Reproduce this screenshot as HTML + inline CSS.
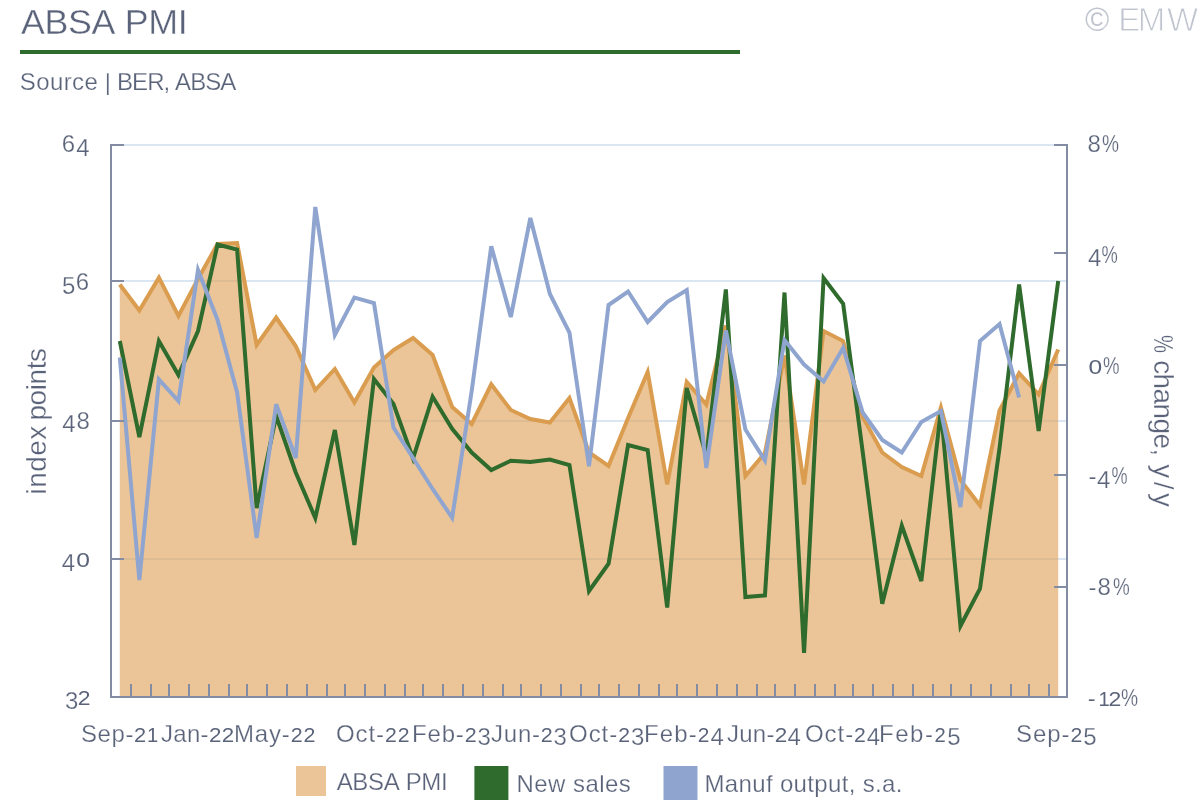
<!DOCTYPE html>
<html lang="en"><head><meta charset="utf-8"><title>ABSA PMI</title>
<style>html,body{margin:0;padding:0;background:#fff;overflow:hidden}svg{display:block}text{font-family:"Liberation Sans", sans-serif;font-kerning:none;}</style></head><body>
<svg width="1200" height="800" viewBox="0 0 1200 800">
<rect x="0" y="0" width="1200" height="800" fill="#ffffff"/>
<text id="t_title" x="20.95" y="33.80" font-size="35.8" text-anchor="start" fill="#5a6379" letter-spacing="-0.321"  stroke="#fff" stroke-width="0.37">ABSA PMI</text>
<rect x="20" y="50" width="720" height="4" fill="#2e6b2c"/>
<text id="t_source" y="89.50" font-size="24" fill="#5a6379" stroke="#fff" stroke-width="0.25"><tspan id="t_source_0" x="19.75" letter-spacing="0.400">Source</tspan><tspan id="t_source_1" x="98.00" letter-spacing="0.000"> | </tspan><tspan id="t_source_2" x="117.00" letter-spacing="-0.925">BER, ABSA</tspan></text>
<text id="t_wm" x="1085.1 1110 1118.3 1137.8 1166.9" y="30.6" font-size="33" fill="#bfc4ce" stroke="#fff" stroke-width="0.9"><tspan stroke-width="0.1">©</tspan> EMW</text>
<rect x="112" y="144" width="954" height="2" fill="#dbe6f3"/>
<rect x="112" y="280" width="954" height="2" fill="#dbe6f3"/>
<rect x="112" y="420" width="954" height="2" fill="#dbe6f3"/>
<rect x="112" y="558" width="954" height="2" fill="#dbe6f3"/>
<path d="M119.80,697 L119.80,284.50 L139.35,310.50 L158.90,277.70 L178.45,316.00 L198.00,279.00 L217.55,244.00 L237.10,243.00 L256.65,345.00 L276.20,317.50 L295.75,346.00 L315.30,390.00 L334.85,369.00 L354.40,402.50 L373.95,367.50 L393.50,350.00 L413.05,338.00 L432.60,355.00 L452.15,407.00 L471.70,424.00 L491.25,384.25 L510.80,410.00 L530.35,419.00 L549.90,422.50 L569.45,398.00 L589.00,452.50 L608.55,466.00 L628.10,418.00 L647.65,372.00 L667.20,484.50 L686.75,382.00 L706.30,404.50 L725.85,325.50 L745.40,476.00 L764.95,453.00 L784.50,355.50 L804.05,484.50 L823.60,331.00 L843.15,341.00 L862.70,417.00 L882.25,452.50 L901.80,467.00 L921.35,476.00 L940.90,407.50 L960.45,480.00 L980.00,505.50 L999.55,410.50 L1019.10,373.25 L1038.65,394.50 L1058.20,349.50 L1058.20,697 Z" fill="#de9e53" fill-opacity="0.6"/>
<polyline points="119.80,284.50 139.35,310.50 158.90,277.70 178.45,316.00 198.00,279.00 217.55,244.00 237.10,243.00 256.65,345.00 276.20,317.50 295.75,346.00 315.30,390.00 334.85,369.00 354.40,402.50 373.95,367.50 393.50,350.00 413.05,338.00 432.60,355.00 452.15,407.00 471.70,424.00 491.25,384.25 510.80,410.00 530.35,419.00 549.90,422.50 569.45,398.00 589.00,452.50 608.55,466.00 628.10,418.00 647.65,372.00 667.20,484.50 686.75,382.00 706.30,404.50 725.85,325.50 745.40,476.00 764.95,453.00 784.50,355.50 804.05,484.50 823.60,331.00 843.15,341.00 862.70,417.00 882.25,452.50 901.80,467.00 921.35,476.00 940.90,407.50 960.45,480.00 980.00,505.50 999.55,410.50 1019.10,373.25 1038.65,394.50 1058.20,349.50" fill="none" stroke="#da9d50" stroke-width="4"/>
<polyline points="119.80,341.00 139.35,437.00 158.90,341.00 178.45,375.00 198.00,331.00 217.55,244.50 237.10,249.50 256.65,508.00 276.20,416.00 295.75,472.50 315.30,518.00 334.85,430.00 354.40,545.00 373.95,379.00 393.50,404.00 413.05,458.50 432.60,396.75 452.15,428.75 471.70,452.50 491.25,470.00 510.80,460.75 530.35,462.00 549.90,459.50 569.45,465.00 589.00,591.00 608.55,563.75 628.10,445.00 647.65,450.00 667.20,607.50 686.75,388.00 706.30,456.00 725.85,289.50 745.40,597.00 764.95,595.50 784.50,292.50 804.05,653.00 823.60,278.00 843.15,303.75 862.70,452.00 882.25,603.75 901.80,525.75 921.35,581.00 940.90,410.00 960.45,626.00 980.00,588.75 999.55,448.00 1019.10,284.50 1038.65,431.00 1058.20,281.00" fill="none" stroke="#2e6b2c" stroke-width="4"/>
<polyline points="119.80,357.50 139.35,580.00 158.90,379.50 178.45,401.00 198.00,270.00 217.55,320.00 237.10,392.50 256.65,538.00 276.20,404.30 295.75,458.00 315.30,207.00 334.85,335.00 354.40,297.50 373.95,303.00 393.50,427.50 413.05,458.00 432.60,489.00 452.15,517.70 471.70,391.00 491.25,246.25 510.80,317.00 530.35,218.00 549.90,294.00 569.45,332.50 589.00,466.25 608.55,305.00 628.10,291.50 647.65,322.00 667.20,302.00 686.75,290.00 706.30,468.00 725.85,330.50 745.40,429.50 764.95,460.50 784.50,340.00 804.05,364.50 823.60,381.50 843.15,348.00 862.70,412.50 882.25,440.00 901.80,452.50 921.35,422.00 940.90,411.00 960.45,507.00 980.00,341.00 999.55,324.00 1019.10,397.50" fill="none" stroke="#8fa5cf" stroke-width="4"/>
<g fill="#838ca2"><rect x="110" y="144" width="14" height="2"/><rect x="110" y="280" width="14" height="2"/><rect x="110" y="420" width="14" height="2"/><rect x="110" y="558" width="14" height="2"/><rect x="1054" y="144" width="14" height="2"/><rect x="1054" y="252" width="14" height="2"/><rect x="1054" y="364" width="14" height="2"/><rect x="1054" y="474" width="14" height="2"/><rect x="1054" y="586" width="14" height="2"/><rect x="130" y="684" width="2" height="14"/><rect x="150" y="684" width="2" height="14"/><rect x="168" y="684" width="2" height="14"/><rect x="188" y="684" width="2" height="14"/><rect x="208" y="684" width="2" height="14"/><rect x="228" y="684" width="2" height="14"/><rect x="246" y="684" width="2" height="14"/><rect x="266" y="684" width="2" height="14"/><rect x="286" y="684" width="2" height="14"/><rect x="306" y="684" width="2" height="14"/><rect x="326" y="684" width="2" height="14"/><rect x="344" y="684" width="2" height="14"/><rect x="364" y="684" width="2" height="14"/><rect x="384" y="684" width="2" height="14"/><rect x="404" y="684" width="2" height="14"/><rect x="422" y="684" width="2" height="14"/><rect x="442" y="684" width="2" height="14"/><rect x="462" y="684" width="2" height="14"/><rect x="482" y="684" width="2" height="14"/><rect x="502" y="684" width="2" height="14"/><rect x="520" y="684" width="2" height="14"/><rect x="540" y="684" width="2" height="14"/><rect x="560" y="684" width="2" height="14"/><rect x="580" y="684" width="2" height="14"/><rect x="598" y="684" width="2" height="14"/><rect x="618" y="684" width="2" height="14"/><rect x="638" y="684" width="2" height="14"/><rect x="658" y="684" width="2" height="14"/><rect x="676" y="684" width="2" height="14"/><rect x="696" y="684" width="2" height="14"/><rect x="716" y="684" width="2" height="14"/><rect x="736" y="684" width="2" height="14"/><rect x="756" y="684" width="2" height="14"/><rect x="774" y="684" width="2" height="14"/><rect x="794" y="684" width="2" height="14"/><rect x="814" y="684" width="2" height="14"/><rect x="834" y="684" width="2" height="14"/><rect x="852" y="684" width="2" height="14"/><rect x="872" y="684" width="2" height="14"/><rect x="892" y="684" width="2" height="14"/><rect x="912" y="684" width="2" height="14"/><rect x="932" y="684" width="2" height="14"/><rect x="950" y="684" width="2" height="14"/><rect x="970" y="684" width="2" height="14"/><rect x="990" y="684" width="2" height="14"/><rect x="1010" y="684" width="2" height="14"/><rect x="1028" y="684" width="2" height="14"/><rect x="1048" y="684" width="2" height="14"/><rect x="110" y="144" width="2" height="554"/><rect x="1066" y="144" width="2" height="554"/><rect x="110" y="696" width="958" height="2"/></g>
<text id="yl_64" x="61.80 76.35" y="152.00" font-size="24" fill="#5a6379" stroke="#fff" stroke-width="0.25">6<tspan dy="3.60">4</tspan></text>
<text id="yl_56" x="62.00 75.80" y="290.30" font-size="24" fill="#5a6379" stroke="#fff" stroke-width="0.25"><tspan dy="3.60">5</tspan><tspan dy="-3.60">6</tspan></text>
<text id="yl_48" x="62.35 76.45" y="428.60" font-size="24" fill="#5a6379" stroke="#fff" stroke-width="0.25"><tspan dy="3.60">4</tspan><tspan dy="-3.60">8</tspan></text>
<text id="yl_40" x="61.70 76.30" y="566.90" font-size="24" fill="#5a6379" stroke="#fff" stroke-width="0.25"><tspan dy="3.60">4</tspan><tspan font-size="20.16" stroke-width="0" textLength="13.67" lengthAdjust="spacingAndGlyphs" dy="-3.60">0</tspan></text>
<text id="yl_32" x="64.90 77.70" y="705.20" font-size="24" fill="#5a6379" stroke="#fff" stroke-width="0.25"><tspan dy="3.60">3</tspan><tspan font-size="20.16" stroke-width="0" textLength="12.78" lengthAdjust="spacingAndGlyphs" dy="-3.60">2</tspan></text>
<text id="yr0_0" x="1087.50" y="152.10" font-size="24" text-anchor="start" fill="#5a6379" letter-spacing="0.000"  stroke="#fff" stroke-width="0.25">8</text>
<text id="yr0_1" x="1102.00" y="152.10" font-size="24" fill="#5a6379" stroke="#fff" stroke-width="0.25" textLength="17.00" lengthAdjust="spacingAndGlyphs">%</text>
<text id="yr1_0" x="1088.00" y="262.80" font-size="24" text-anchor="start" fill="#5a6379" letter-spacing="0.000"  stroke="#fff" stroke-width="0.25"><tspan dy="3.60">4</tspan></text>
<text id="yr1_1" x="1101.60" y="262.80" font-size="24" fill="#5a6379" stroke="#fff" stroke-width="0.25" textLength="16.30" lengthAdjust="spacingAndGlyphs">%</text>
<text id="yr2_0" x="1088.40" y="373.50" font-size="24" text-anchor="start" fill="#5a6379" letter-spacing="0.000"  stroke="#fff" stroke-width="0.25"><tspan font-size="20.16" stroke-width="0" textLength="13.67" lengthAdjust="spacingAndGlyphs">0</tspan></text>
<text id="yr2_1" x="1103.00" y="373.50" font-size="24" fill="#5a6379" stroke="#fff" stroke-width="0.25" textLength="16.50" lengthAdjust="spacingAndGlyphs">%</text>
<text id="yr3_0" x="1088.60" y="484.20" font-size="24" text-anchor="start" fill="#5a6379" letter-spacing="0.000"  stroke="#fff" stroke-width="0.25">-</text>
<text id="yr3_1" x="1097.00" y="484.20" font-size="24" text-anchor="start" fill="#5a6379" letter-spacing="0.000"  stroke="#fff" stroke-width="0.25"><tspan dy="3.60">4</tspan></text>
<text id="yr3_2" x="1111.60" y="484.20" font-size="24" fill="#5a6379" stroke="#fff" stroke-width="0.25" textLength="16.05" lengthAdjust="spacingAndGlyphs">%</text>
<text id="yr4_0" x="1088.60" y="594.90" font-size="24" text-anchor="start" fill="#5a6379" letter-spacing="0.000"  stroke="#fff" stroke-width="0.25">-</text>
<text id="yr4_1" x="1097.50" y="594.90" font-size="24" text-anchor="start" fill="#5a6379" letter-spacing="0.000"  stroke="#fff" stroke-width="0.25">8</text>
<text id="yr4_2" x="1113.00" y="594.90" font-size="24" fill="#5a6379" stroke="#fff" stroke-width="0.25" textLength="16.75" lengthAdjust="spacingAndGlyphs">%</text>
<text id="yr5_0" x="1087.80" y="705.60" font-size="24" text-anchor="start" fill="#5a6379" letter-spacing="0.000"  stroke="#fff" stroke-width="0.25">-</text>
<text id="yr5_1" x="1098.46 1108.50" y="705.60" font-size="24" fill="#5a6379" stroke="#fff" stroke-width="0.25"><tspan font-size="20.16" stroke-width="0">1</tspan><tspan font-size="20.16" stroke-width="0" textLength="12.78" lengthAdjust="spacingAndGlyphs">2</tspan></text>
<text id="yr5_2" x="1121.00" y="705.60" font-size="24" fill="#5a6379" stroke="#fff" stroke-width="0.25" textLength="17.10" lengthAdjust="spacingAndGlyphs">%</text>
<text id="xl_0" x="81.00" y="741.80" font-size="24" text-anchor="start" fill="#5a6379" letter-spacing="0.600"  stroke="#fff" stroke-width="0.25">Sep-<tspan font-size="20.16" stroke-width="0" textLength="12.78" lengthAdjust="spacingAndGlyphs">2</tspan><tspan font-size="20.16" stroke-width="0">1</tspan></text>
<text id="xl_4" x="161.00" y="741.80" font-size="24" text-anchor="start" fill="#5a6379" letter-spacing="0.300"  stroke="#fff" stroke-width="0.25">Jan-<tspan font-size="20.16" stroke-width="0" textLength="12.78" lengthAdjust="spacingAndGlyphs">2</tspan><tspan font-size="20.16" stroke-width="0" textLength="12.78" lengthAdjust="spacingAndGlyphs">2</tspan></text>
<text id="xl_8" x="234.00" y="741.80" font-size="24" text-anchor="start" fill="#5a6379" letter-spacing="0.820"  stroke="#fff" stroke-width="0.25">May-<tspan font-size="20.16" stroke-width="0" textLength="12.78" lengthAdjust="spacingAndGlyphs">2</tspan><tspan font-size="20.16" stroke-width="0" textLength="12.78" lengthAdjust="spacingAndGlyphs">2</tspan></text>
<text id="xl_13" x="336.00" y="741.80" font-size="24" text-anchor="start" fill="#5a6379" letter-spacing="0.920"  stroke="#fff" stroke-width="0.25">Oct-<tspan font-size="20.16" stroke-width="0" textLength="12.78" lengthAdjust="spacingAndGlyphs">2</tspan><tspan font-size="20.16" stroke-width="0" textLength="12.78" lengthAdjust="spacingAndGlyphs">2</tspan></text>
<text id="xl_17" x="412.00" y="741.80" font-size="24" text-anchor="start" fill="#5a6379" letter-spacing="0.820"  stroke="#fff" stroke-width="0.25">Feb-<tspan font-size="20.16" stroke-width="0" textLength="12.78" lengthAdjust="spacingAndGlyphs">2</tspan><tspan dy="3.60">3</tspan></text>
<text id="xl_21" x="491.00" y="741.80" font-size="24" text-anchor="start" fill="#5a6379" letter-spacing="0.780"  stroke="#fff" stroke-width="0.25">Jun-<tspan font-size="20.16" stroke-width="0" textLength="12.78" lengthAdjust="spacingAndGlyphs">2</tspan><tspan dy="3.60">3</tspan></text>
<text id="xl_25" x="569.00" y="741.80" font-size="24" text-anchor="start" fill="#5a6379" letter-spacing="0.960"  stroke="#fff" stroke-width="0.25">Oct-<tspan font-size="20.16" stroke-width="0" textLength="12.78" lengthAdjust="spacingAndGlyphs">2</tspan><tspan dy="3.60">3</tspan></text>
<text id="xl_29" x="644.00" y="741.80" font-size="24" text-anchor="start" fill="#5a6379" letter-spacing="1.120"  stroke="#fff" stroke-width="0.25">Feb-<tspan font-size="20.16" stroke-width="0" textLength="12.78" lengthAdjust="spacingAndGlyphs">2</tspan><tspan dy="3.60">4</tspan></text>
<text id="xl_33" x="727.00" y="741.80" font-size="24" text-anchor="start" fill="#5a6379" letter-spacing="0.260"  stroke="#fff" stroke-width="0.25">Jun-<tspan font-size="20.16" stroke-width="0" textLength="12.78" lengthAdjust="spacingAndGlyphs">2</tspan><tspan dy="3.60">4</tspan></text>
<text id="xl_37" x="805.00" y="741.80" font-size="24" text-anchor="start" fill="#5a6379" letter-spacing="0.940"  stroke="#fff" stroke-width="0.25">Oct-<tspan font-size="20.16" stroke-width="0" textLength="12.78" lengthAdjust="spacingAndGlyphs">2</tspan><tspan dy="3.60">4</tspan></text>
<text id="xl_41" x="879.00" y="741.80" font-size="24" text-anchor="start" fill="#5a6379" letter-spacing="1.540"  stroke="#fff" stroke-width="0.25">Feb-<tspan font-size="20.16" stroke-width="0" textLength="12.78" lengthAdjust="spacingAndGlyphs">2</tspan><tspan dy="3.60">5</tspan></text>
<text id="xl_48" x="1016.00" y="741.80" font-size="24" text-anchor="start" fill="#5a6379" letter-spacing="0.940"  stroke="#fff" stroke-width="0.25">Sep-<tspan font-size="20.16" stroke-width="0" textLength="12.78" lengthAdjust="spacingAndGlyphs">2</tspan><tspan dy="3.60">5</tspan></text>
<text id="t_yl" y="0.00" font-size="28" fill="#5a6379" stroke="#fff" stroke-width="0.29" transform="translate(45.7,421) rotate(-90)"><tspan id="t_yl_0" x="-73.60" letter-spacing="0.500">index</tspan><tspan id="t_yl_1" x="-7.00" letter-spacing="-0.400"> points</tspan></text>
<text id="t_yr" y="0.00" font-size="28" fill="#5a6379" stroke="#fff" stroke-width="0.29" transform="translate(1153.8,421) rotate(90)"><tspan id="t_yr_0" x="-86.00" letter-spacing="0.000" textLength="18.00" lengthAdjust="spacingAndGlyphs">%</tspan><tspan id="t_yr_1" x="-68.00" letter-spacing="-0.583"> change,</tspan><tspan id="t_yr_2" x="32.00" letter-spacing="3.500"> y/y</tspan></text>
<rect x="296" y="766" width="30" height="30" fill="#de9e53" fill-opacity="0.6"/>
<text id="lg_1" x="336.70" y="790.00" font-size="24" text-anchor="start" fill="#5a6379" letter-spacing="-0.343"  stroke="#fff" stroke-width="0.25">ABSA PMI</text>
<rect x="474.4" y="766" width="34" height="36" fill="#2e6b2c"/>
<text id="lg_2" x="516.50" y="792.00" font-size="24" text-anchor="start" fill="#5a6379" letter-spacing="0.450"  stroke="#fff" stroke-width="0.25">New sales</text>
<rect x="663.5" y="766" width="34" height="36" fill="#8fa5cf"/>
<text id="lg_3" x="704.50" y="792.00" font-size="24" text-anchor="start" fill="#5a6379" letter-spacing="0.341"  stroke="#fff" stroke-width="0.25">Manuf output, s.a.</text>
</svg></body></html>
